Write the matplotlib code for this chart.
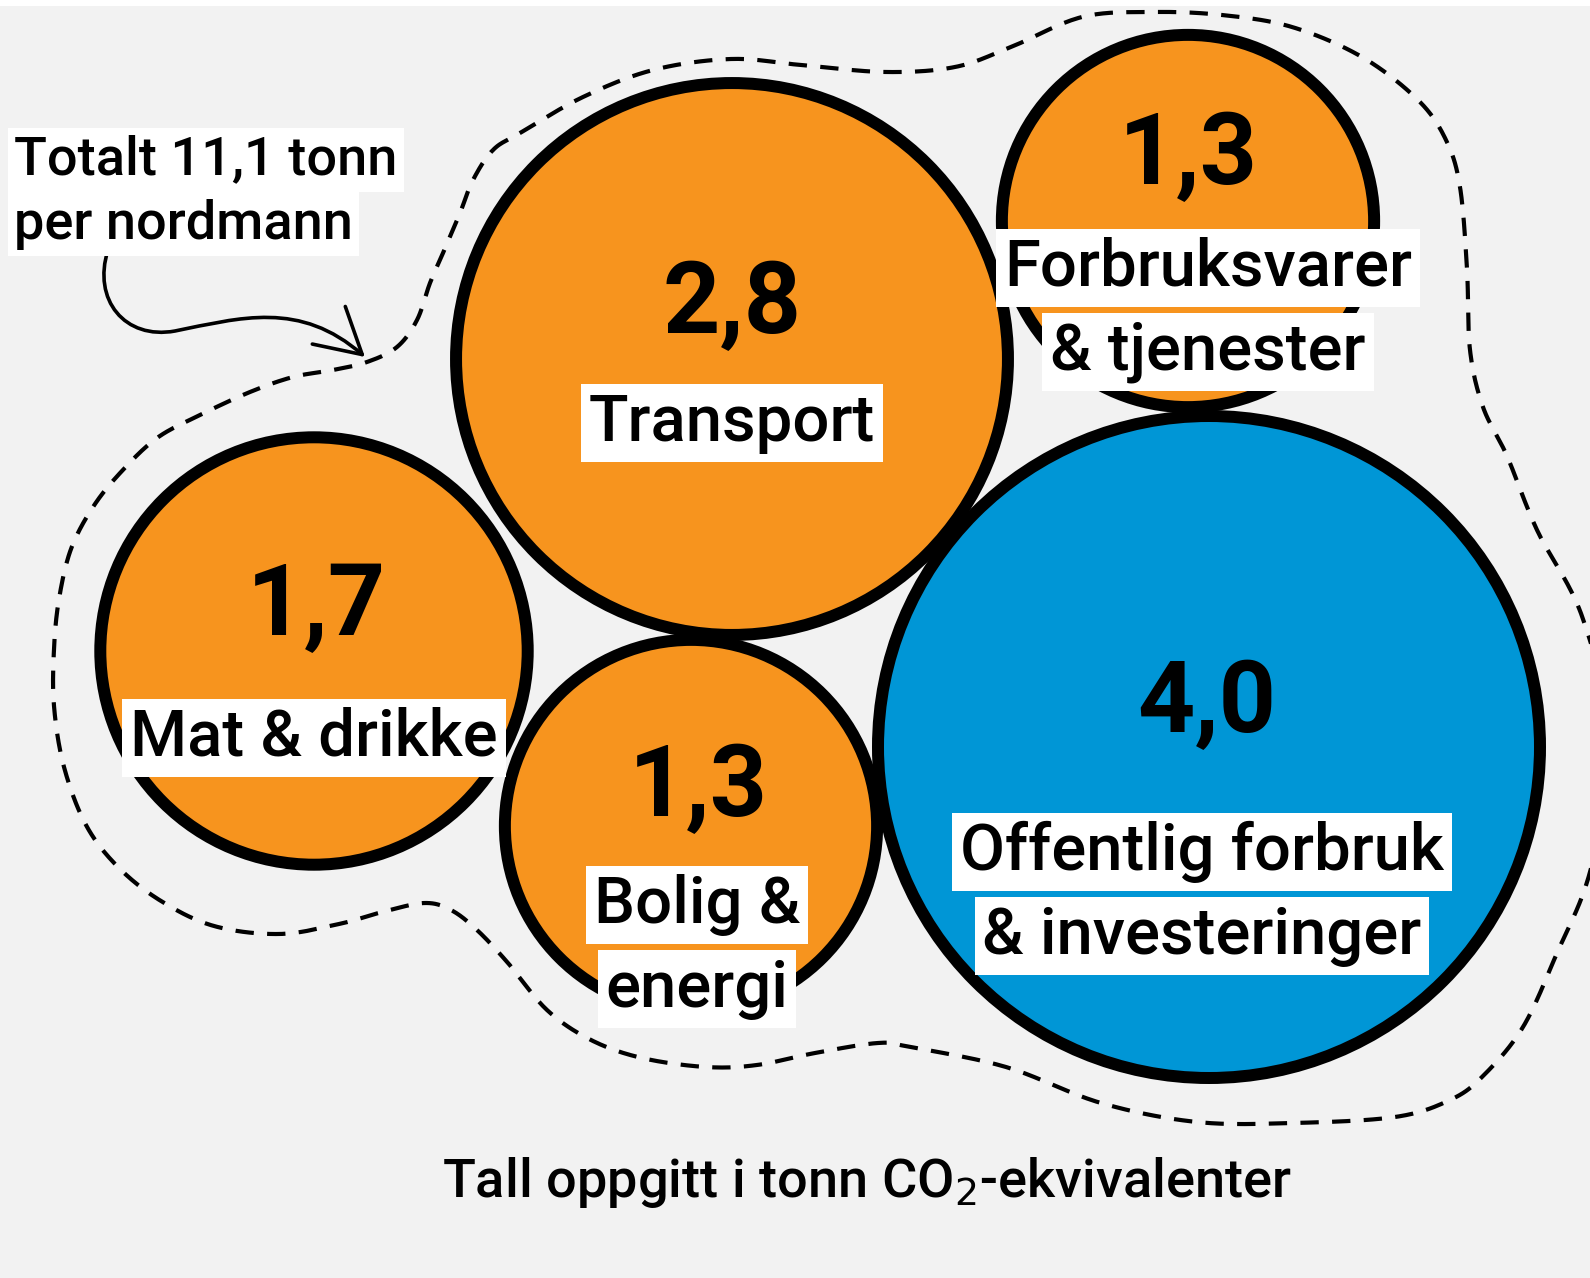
#!/usr/bin/env python

import numpy as np
import matplotlib
matplotlib.use("Agg")
import matplotlib.pyplot as plt
from matplotlib.patches import Circle, FancyArrowPatch, Rectangle
from matplotlib.path import Path

# Data: tonnes CO2-equivalents per Norwegian, by consumption category
categories = ["Transport", "Forbruksvarer\n& tjenester", "Mat & drikke",
              "Bolig &\nenergi", "Offentlig forbruk\n& investeringer"]
values = [2.8, 1.3, 1.7, 1.3, 4.0]
value_labels = ["2,8", "1,3", "1,7", "1,3", "4,0"]
caption = "Tall oppgitt i tonn CO$_2$-ekvivalenter"

# Layout (pixel coordinates, y downwards)
centers = [(732, 359), (1188, 221), (314, 651), (691, 826), (1209, 747)]
number_pos = [(732, 306), (1188, 157), (316, 608), (698, 789), (1207, 705)]
label_pos = [(732, 423), (1208, 268), (314, 738), (697, 905), (1202, 852)]
line_gap = 84
colors = ["#F7941E", "#F7941E", "#F7941E", "#F7941E", "#0096D6"]

W, H = 1590, 1278
SCALE = 168.5        # outer radius per sqrt(tonne)
BORDER = 12          # px

# hand traced dashed outline around the bubble group
blob = [(493, 150), (520, 133), (583, 97), (653, 70), (731, 59), (801, 65),
        (885, 72), (955, 67), (1011, 47), (1082, 17), (1152, 12), (1222, 15),
        (1292, 27), (1362, 57), (1418, 100), (1446, 140), (1460, 187),
        (1467, 269), (1470, 350), (1483, 407), (1507, 456), (1537, 530),
        (1583, 619), (1612, 750), (1590, 872), (1557, 953), (1523, 1027),
        (1483, 1076), (1450, 1100), (1395, 1117), (1293, 1123), (1197, 1122),
        (1101, 1103), (1006, 1067), (910, 1047), (878, 1043), (815, 1053),
        (757, 1065), (706, 1067), (642, 1058), (591, 1040), (547, 1010),
        (508, 963), (477, 930), (451, 910), (425, 903), (386, 911),
        (339, 924), (279, 934), (214, 926), (161, 901), (118, 867), (86, 825),
        (64, 767), (54, 706), (54, 649), (59, 599), (71, 549), (93, 507),
        (121, 472), (157, 438), (200, 415), (250, 392), (293, 377),
        (333, 370), (367, 362), (397, 347), (417, 320), (430, 283),
        (443, 253), (460, 213), (473, 180)]


def catmull_rom_closed(pts, n=20):
    pts = np.asarray(pts, dtype=float)
    out = []
    m = len(pts)
    t = np.linspace(0, 1, n, endpoint=False)[:, None]
    for i in range(m):
        p0, p1, p2, p3 = pts[i - 1], pts[i], pts[(i + 1) % m], pts[(i + 2) % m]
        seg = 0.5 * ((2 * p1) + (-p0 + p2) * t
                     + (2 * p0 - 5 * p1 + 4 * p2 - p3) * t ** 2
                     + (-p0 + 3 * p1 - 3 * p2 + p3) * t ** 3)
        out.append(seg)
    out = np.vstack(out)
    return np.vstack([out, out[:1]])


plt.rcParams["font.family"] = ["Roboto", "DejaVu Sans"]

fig = plt.figure(figsize=(W / 100, H / 100), dpi=100)
fig.patch.set_facecolor("white")
ax = fig.add_axes([0, 0, 1, 1])
ax.set_xlim(0, W)
ax.set_ylim(H, 0)
ax.set_aspect("equal")
ax.axis("off")

ax.add_patch(Rectangle((0, 6), W, H, facecolor="#F2F2F2", edgecolor="none",
                       zorder=0))

curve = catmull_rom_closed(blob)
ax.plot(curve[:, 0], curve[:, 1], color="black", lw=3.0,
        linestyle=(0, (4.4, 3.2)), zorder=1)

lw_pt = BORDER * 72 / 100
for (cx, cy), v, c in zip(centers, values, colors):
    r = SCALE * np.sqrt(v) - BORDER / 2
    ax.add_patch(Circle((cx, cy), r, facecolor=c, edgecolor="black",
                        linewidth=lw_pt, zorder=2))

box = dict(facecolor="white", edgecolor="none", boxstyle="square,pad=0.12")
for (nx, ny), txt in zip(number_pos, value_labels):
    ax.text(nx, ny, txt, fontsize=72, fontweight="bold", ha="center",
            va="center", zorder=4)

for (lx, ly), lab in zip(label_pos, categories):
    for k, line in enumerate(lab.split("\n")):
        ax.text(lx, ly + k * line_gap, line, fontsize=47, fontweight="medium",
                ha="center", va="center", zorder=5, bbox=box)

total = sum(values)
total_txt = f"{total:.1f}".replace(".", ",")
ax.text(14, 160, f"Totalt {total_txt} tonn", fontsize=39,
        fontweight="medium", ha="left", va="center", zorder=5, bbox=box)
ax.text(14, 224, "per nordmann", fontsize=39, fontweight="medium",
        ha="left", va="center", zorder=5, bbox=box)

verts = [(108, 250), (92, 300), (125, 340), (175, 331),
         (240, 318), (300, 300), (365, 357)]
codes = [Path.MOVETO, Path.CURVE4, Path.CURVE4, Path.CURVE4,
         Path.CURVE4, Path.CURVE4, Path.CURVE4]
arrow = FancyArrowPatch(path=Path(verts, codes),
                        arrowstyle="->,head_length=1.6,head_width=0.9",
                        mutation_scale=20, lw=2.6, color="black", zorder=3)
ax.add_patch(arrow)

ax.text(W / 2 + 72, 1183, caption, fontsize=39, fontweight="medium",
        ha="center", va="center", zorder=5)

fig.savefig("out.png", dpi=100, facecolor=fig.get_facecolor())
